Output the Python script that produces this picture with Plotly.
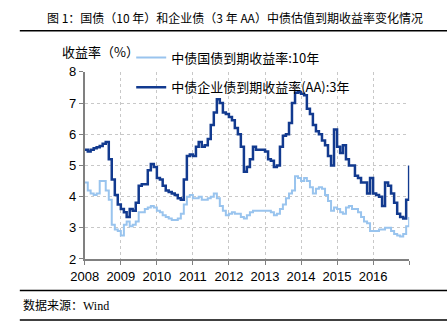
import pandas as pd
import plotly.graph_objects as go

# Monthly yield observations (%), Jan 2008 - Dec 2016, plus the year-end print
month_starts = pd.date_range("2008-01-01", "2016-12-01", freq="MS").strftime("%Y-%m-%d").tolist()
dates = month_starts + ["2016-12-31"]

gov_10y = [
    4.45, 4.20, 4.10, 4.05, 4.10, 4.50, 4.50, 4.20, 3.90, 3.10, 2.95, 2.90,
    2.75, 3.10, 3.20, 3.05, 3.10, 3.20, 3.50, 3.50, 3.60, 3.65, 3.70, 3.65,
    3.55, 3.50, 3.40, 3.35, 3.30, 3.25, 3.25, 3.30, 3.45, 3.75, 4.00, 4.05,
    3.95, 3.95, 4.00, 3.90, 3.90, 3.95, 4.00, 4.10, 3.95, 3.70, 3.55, 3.40,
    3.45, 3.50, 3.45, 3.45, 3.35, 3.30, 3.40, 3.50, 3.55, 3.55, 3.55, 3.55,
    3.55, 3.55, 3.50, 3.40, 3.45, 3.60, 3.75, 3.95, 4.10, 4.20, 4.65, 4.60,
    4.50, 4.60, 4.50, 4.30, 4.10, 4.25, 4.30, 4.25, 4.05, 3.86, 3.55, 3.65,
    3.60, 3.50, 3.45, 3.65, 3.70, 3.60, 3.60, 3.50, 3.35, 3.20, 3.15, 2.90,
    2.90, 2.90, 2.95, 2.95, 3.00, 3.00, 2.90, 2.80, 2.75, 2.72, 2.80, 3.05,
    3.35,
]

corp_aa_3y = [
    5.50, 5.45, 5.50, 5.55, 5.58, 5.62, 5.70, 5.75, 5.20, 4.55, 4.05, 3.75,
    3.60, 3.50, 3.35, 3.60, 3.55, 3.80, 4.35, 4.40, 4.40, 4.85, 5.05, 4.95,
    4.60, 4.55, 4.35, 4.20, 4.15, 4.10, 4.05, 3.95, 3.90, 4.55, 5.30, 5.35,
    5.30, 5.60, 5.75, 5.60, 5.65, 5.85, 6.30, 6.70, 7.12, 7.00, 6.70, 6.65,
    6.55, 6.45, 6.20, 6.00, 5.60, 4.80, 4.95, 5.20, 5.60, 5.50, 5.50, 5.50,
    5.45, 5.20, 5.15, 4.95, 5.00, 5.60, 5.95, 6.00, 6.36, 7.00, 7.33, 7.35,
    7.30, 7.25, 6.82, 6.65, 6.30, 6.10, 6.00, 5.80, 5.65, 5.30, 5.00, 6.15,
    5.60, 5.40, 5.65, 5.20, 5.00, 5.00, 4.67, 4.60, 4.45, 4.45, 4.10, 4.60,
    4.10, 4.05, 4.00, 3.70, 4.45, 4.35, 4.10, 3.80, 3.45, 3.35, 3.30, 3.90,
    5.00,
]

year_ticks = [f"{y}-01-01" for y in range(2008, 2018)]
year_labels = [str(y) for y in range(2008, 2017)] + [""]
y_ticks = [2, 3, 4, 5, 6, 7, 8]

W, H = 447, 330
FONT = "Liberation Sans, Arial, Noto Sans CJK SC, sans-serif"
CJK = "Noto Sans CJK SC, sans-serif"


def px(x):
    return x / W


def py(y):
    return 1 - y / H


fig = go.Figure()
fig.add_trace(go.Scatter(
    x=dates, y=gov_10y, mode="lines", line_shape="hv",
    line=dict(color="#99C4EE", width=2),
    name="中债国债到期收益率:10年", legend="legend",
))
fig.add_trace(go.Scatter(
    x=dates, y=corp_aa_3y, mode="lines", line_shape="hv",
    line=dict(color="#123A8F", width=2.5),
    name="中债企业债到期收益率(AA):3年", legend="legend2",
))

axis_common = dict(
    showline=True, linecolor="#808080", linewidth=2,
    ticks="outside", ticklen=4, tickcolor="#808080", tickwidth=1,
    showgrid=True, gridcolor="#C8C8C8", griddash="dot", gridwidth=1,
    zeroline=False, tickfont=dict(family=FONT, size=13, color="#000000"),
)

legend_common = dict(
    xanchor="left", yanchor="middle",
    bgcolor="rgba(0,0,0,0)", borderwidth=0,
    font=dict(family=CJK, size=13, color="#000000"),
    itemwidth=30,
)

fig.update_layout(
    width=W, height=H,
    margin=dict(l=0, r=0, t=0, b=0, pad=0),
    paper_bgcolor="white", plot_bgcolor="white",
    xaxis=dict(
        domain=[px(73), px(408)], type="date",
        range=["2008-01-01", "2017-01-01"],
        tickmode="array", tickvals=year_ticks, ticktext=year_labels,
        **axis_common,
    ),
    yaxis=dict(
        domain=[py(264), py(68)], range=[2, 8],
        tickmode="array", tickvals=y_ticks,
        **axis_common,
    ),
    legend=dict(x=px(121), y=py(53), **legend_common),
    legend2=dict(x=px(121), y=py(84), **legend_common),
    showlegend=True,
)

annotations = [
    dict(text="图 1：国债（10 年）和企业债（3 年 AA）中债估值到期收益率变化情况",
         x=px(228), y=py(11), xanchor="center", yanchor="middle",
         font=dict(family=CJK, size=12, color="#000000")),
    dict(text="收益率（%）", x=px(48), y=py(47), xanchor="left", yanchor="middle",
         font=dict(family=CJK, size=13, color="#000000")),
    dict(text="数据来源：Wind", x=px(7), y=py(313), xanchor="left", yanchor="middle",
         font=dict(family="Liberation Serif, Noto Sans CJK SC, serif", size=12, color="#000000")),
]
for a in annotations:
    a.update(xref="paper", yref="paper", showarrow=False)
fig.update_layout(annotations=annotations)

rules = [25, 297, 328]
fig.update_layout(shapes=[
    dict(type="line", xref="paper", yref="paper", x0=px(6), x1=1, y0=py(yy), y1=py(yy),
         line=dict(color="#000000", width=1.5))
    for yy in rules
])

fig.write_html("out.html")
